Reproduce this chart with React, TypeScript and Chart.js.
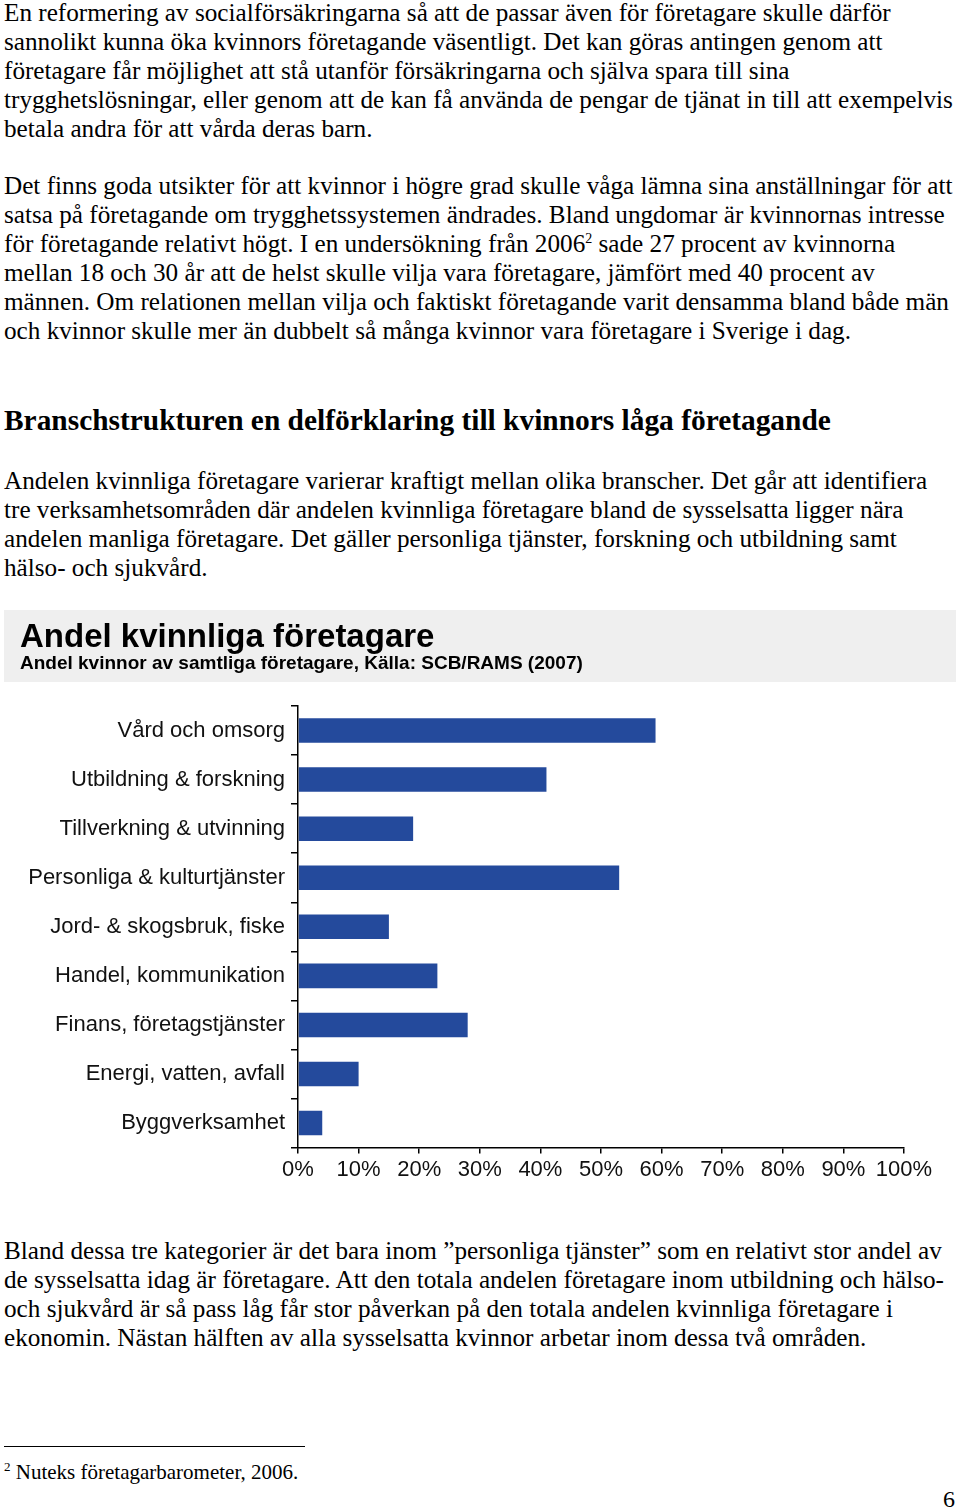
import React, { useEffect, useRef } from 'react';
import { Chart, registerables } from 'chart.js';

Chart.register(...registerables);

const chartTitle = 'Andel kvinnliga företagare';
const chartSubtitle = 'Andel kvinnor av samtliga företagare, Källa: SCB/RAMS (2007)';

const categories = [
  'Vård och omsorg',
  'Utbildning & forskning',
  'Tillverkning & utvinning',
  'Personliga & kulturtjänster',
  'Jord- & skogsbruk, fiske',
  'Handel, kommunikation',
  'Finans, företagstjänster',
  'Energi, vatten, avfall',
  'Byggverksamhet',
];

const womenShare = [59, 41, 19, 53, 15, 23, 28, 10, 4];

const xMin = 0;
const xMax = 100;
const xStep = 10;

const para1 = [
  'En reformering av socialförsäkringarna så att de passar även för företagare skulle därför',
  'sannolikt kunna öka kvinnors företagande väsentligt. Det kan göras antingen genom att',
  'företagare får möjlighet att stå utanför försäkringarna och själva spara till sina',
  'trygghetslösningar, eller genom att de kan få använda de pengar de tjänat in till att exempelvis',
  'betala andra för att vårda deras barn.',
];

const para2 = [
  'Det finns goda utsikter för att kvinnor i högre grad skulle våga lämna sina anställningar för att',
  'satsa på företagande om trygghetssystemen ändrades. Bland ungdomar är kvinnornas intresse',
  'SUP',
  'mellan 18 och 30 år att de helst skulle vilja vara företagare, jämfört med 40 procent av',
  'männen. Om relationen mellan vilja och faktiskt företagande varit densamma bland både män',
  'och kvinnor skulle mer än dubbelt så många kvinnor vara företagare i Sverige i dag.',
];

const heading = 'Branschstrukturen en delförklaring till kvinnors låga företagande';

const para3 = [
  'Andelen kvinnliga företagare varierar kraftigt mellan olika branscher. Det går att identifiera',
  'tre verksamhetsområden där andelen kvinnliga företagare bland de sysselsatta ligger nära',
  'andelen manliga företagare. Det gäller personliga tjänster, forskning och utbildning samt',
  'hälso- och sjukvård.',
];

const para4 = [
  'Bland dessa tre kategorier är det bara inom ”personliga tjänster” som en relativt stor andel av',
  'de sysselsatta idag är företagare. Att den totala andelen företagare inom utbildning och hälso-',
  'och sjukvård är så pass låg får stor påverkan på den totala andelen kvinnliga företagare i',
  'ekonomin. Nästan hälften av alla sysselsatta kvinnor arbetar inom dessa två områden.',
];

const SERIF = '"Liberation Serif", "Times New Roman", serif';
const SANS = '"Liberation Sans", Arial, sans-serif';

const lineStyle = (top: number): React.CSSProperties => ({
  position: 'absolute',
  left: 4,
  top,
  height: 29,
  lineHeight: '29px',
  fontSize: 25.2,
  whiteSpace: 'nowrap',
  fontFamily: SERIF,
  color: '#000',
});

function Para({ lines, top }: { lines: string[]; top: number }) {
  return (
    <>
      {lines.map((l, i) => (
        <div key={i} style={lineStyle(top + i * 28.9)}>
          {l === 'SUP' ? (
            <>
              för företagande relativt högt. I en undersökning från 2006
              <sup style={{ fontSize: 14, verticalAlign: 'top', lineHeight: '20px' }}>2</sup> sade 27 procent av kvinnorna
            </>
          ) : (
            l
          )}
        </div>
      ))}
    </>
  );
}

const headerBg = {
  id: 'headerBg',
  beforeDraw(chart: any) {
    const ctx = chart.ctx;
    ctx.save();
    ctx.fillStyle = '#efefef';
    ctx.fillRect(0, 0, chart.width, 72);
    ctx.restore();
  },
};

function BarChart() {
  const ref = useRef<HTMLCanvasElement | null>(null);
  useEffect(() => {
    if (!ref.current) return;
    const chart = new Chart(ref.current, {
      type: 'bar',
      data: {
        labels: categories,
        datasets: [
          {
            data: womenShare,
            backgroundColor: '#244a9c',
            borderWidth: 0,
            barPercentage: 0.5,
            categoryPercentage: 1,
          },
        ],
      },
      options: {
        indexAxis: 'y',
        animation: false,
        responsive: false,
        maintainAspectRatio: false,
        layout: { padding: { left: 16, right: 52, top: 0, bottom: 4 } },
        plugins: {
          legend: { display: false },
          tooltip: { enabled: false },
          title: {
            display: true,
            text: chartTitle,
            align: 'start',
            color: '#000',
            font: { family: SANS, size: 33, weight: 'bold', lineHeight: 1 },
            padding: { top: 11, bottom: 0 },
          },
          subtitle: {
            display: true,
            text: chartSubtitle,
            align: 'start',
            color: '#000',
            font: { family: SANS, size: 19, weight: 'bold', lineHeight: 1 },
            padding: { top: 0, bottom: 33 },
          },
        },
        scales: {
          x: {
            min: xMin,
            max: xMax,
            ticks: {
              stepSize: xStep,
              color: '#111',
              font: { family: SANS, size: 22 },
              padding: 3,
              maxRotation: 0,
              minRotation: 0,
              autoSkip: false,
              callback: (v: any) => v + '%',
            },
            grid: { drawOnChartArea: false, tickLength: 6, color: '#000', lineWidth: 1.5 },
            border: { color: '#000', width: 1.5 },
          },
          y: {
            afterFit: (scale: any) => {
              scale.width = 278;
            },
            ticks: {
              color: '#111',
              font: { family: SANS, size: 22 },
              padding: 6,
            },
            grid: { drawOnChartArea: false, tickLength: 7, color: '#000', lineWidth: 1.5, offset: true },
            border: { color: '#000', width: 1.5 },
          },
        },
      },
      plugins: [headerBg],
    });
    return () => chart.destroy();
  }, []);
  return (
    <canvas
      ref={ref}
      width={952}
      height={580}
      style={{ position: 'absolute', left: 4, top: 610, width: 952, height: 580 }}
    />
  );
}

export default function App() {
  return (
    <div style={{ position: 'absolute', left: 0, top: 0, width: 960, height: 1509, background: '#fff', overflow: 'hidden' }}>
      <Para lines={para1} top={-2} />
      <Para lines={para2} top={171} />
      <div
        style={{
          position: 'absolute',
          left: 4,
          top: 403,
          lineHeight: '34px',
          fontSize: 29.4,
          fontWeight: 'bold',
          whiteSpace: 'nowrap',
          fontFamily: SERIF,
          color: '#000',
        }}
      >
        {heading}
      </div>
      <Para lines={para3} top={466} />
      <BarChart />
      <Para lines={para4} top={1236} />
      <div style={{ position: 'absolute', left: 4, top: 1446, width: 301, height: 1, background: '#000' }} />
      <div
        style={{
          position: 'absolute',
          left: 4,
          top: 1459,
          lineHeight: '26px',
          fontSize: 21,
          whiteSpace: 'nowrap',
          fontFamily: SERIF,
          color: '#000',
        }}
      >
        <sup style={{ fontSize: 13, verticalAlign: 'top', lineHeight: '16px' }}>2</sup> Nuteks företagarbarometer, 2006.
      </div>
      <div
        style={{
          position: 'absolute',
          left: 943,
          top: 1486,
          lineHeight: '26px',
          fontSize: 24,
          fontFamily: SERIF,
          color: '#000',
        }}
      >
        6
      </div>
    </div>
  );
}
